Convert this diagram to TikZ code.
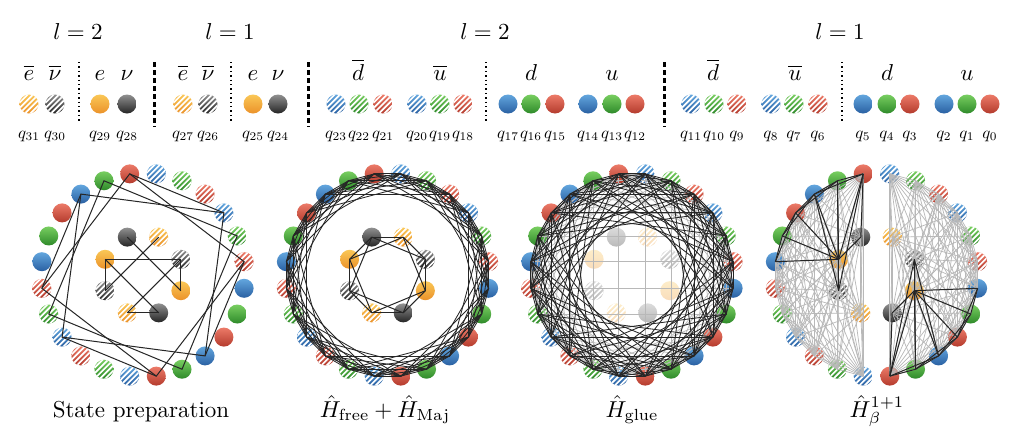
\documentclass[tikz,border=0pt]{standalone}
\usetikzlibrary{calc}
\definecolor{qblueT}{HTML}{62A6DE}\definecolor{qblueB}{HTML}{2A60A2}
\definecolor{qgreenT}{HTML}{78CE60}\definecolor{qgreenB}{HTML}{2E8A2A}
\definecolor{qredT}{HTML}{EC7A68}\definecolor{qredB}{HTML}{B43B2D}
\definecolor{qorangeT}{HTML}{FAC756}\definecolor{qorangeB}{HTML}{EB922A}
\definecolor{qgrayT}{HTML}{909090}\definecolor{qgrayB}{HTML}{252525}
% #1 coordinate, #2 colour prefix, #3 striped (0/1), #4 colour strength
\newcommand\qball[4]{%
  \shade[top color=#2T!#4,bottom color=#2B!#4] (#1) circle[radius=4.75pt];
  \ifnum#3=1\relax
    \begin{scope}
      \clip (#1) circle[radius=4.75pt];
      \foreach \s in {-2,...,2}{\draw[white,line width=0.85pt] (#1) ++({\s*2.7pt-6pt},-6pt) -- ++(12pt,12pt);}
    \end{scope}
  \fi}
\newcommand\drawouter[1]{%
  \foreach \k in {0,...,23}{%
    \pgfmathtruncatemacro\cc{mod(\k,3)}%
    \pgfmathtruncatemacro\st{mod(floor(\k/6)+1,2)}%
    \ifcase\cc \def\cn{qblue}\or \def\cn{qgreen}\else \def\cn{qred}\fi
    \qball{P#1o\k}{\cn}{\st}{100}}}
\newcommand\drawinner[2]{%
  \foreach \j in {0,...,7}{%
    \pgfmathtruncatemacro\g{mod(\j,2)}%
    \pgfmathtruncatemacro\m{mod(\j,4)}%
    \pgfmathtruncatemacro\st{(\m==1)||(\m==2)}%
    \ifcase\g \def\cn{qgray}\else \def\cn{qorange}\fi
    \qball{P#1i\j}{\cn}{\st}{#2}}}
\begin{document}
\begin{tikzpicture}[x=0.5pt,y=-0.5pt,
  pline/.style={black!85,line width=0.5pt},
  pdense/.style={black!85,line width=0.42pt},
  plight/.style={black!28,line width=0.35pt},
  lbl/.style={scale=1.15,anchor=base,inner sep=0pt},
  qlbl/.style={scale=0.84,anchor=base,inner sep=0pt},
  thickdash/.style={line width=1.5pt,dash pattern=on 2.6pt off 1.4pt},
  dotsep/.style={line width=0.7pt,dash pattern=on 0.7pt off 1.5pt}]
\useasboundingbox (0,0) rectangle (1024,445);
\fill[white] (0,0) rectangle (1024,445);

% ---------- header ----------
\node[lbl] (t1) at (78,39) {$l=2$};
\node[lbl] (t2) at (230,39) {$l=1$};
\node[lbl] (t3) at (485,39) {$l=2$};
\node[lbl] (t4) at (840,39) {$l=1$};

\foreach \x/\txt [count=\n] in {29/\overline{e},55/\overline{\nu},100/e,127/\nu,183/\overline{e},208/\overline{\nu},253/e,278/\nu,358/\overline{d},440/\overline{u},531/d,612/u,713/\overline{d},795/\overline{u},887/d,967/u}
  \node[lbl] (f\n) at (\x,80) {$\txt$};

\foreach \x in {154,308,664} \draw[thickdash] (\x,62) -- (\x,127);
\foreach \x in {79,231,486,842} \draw[dotsep] (\x,62) -- (\x,122);

\foreach \x/\cn/\st/\q in {29/qorange/1/31,55/qgray/1/30,100/qorange/0/29,127/qgray/0/28,
  183/qorange/1/27,208/qgray/1/26,253/qorange/0/25,278/qgray/0/24,
  336/qblue/1/23,359/qgreen/1/22,383/qred/1/21,417/qblue/1/20,440/qgreen/1/19,463/qred/1/18,
  508/qblue/0/17,531/qgreen/0/16,555/qred/0/15,588/qblue/0/14,612/qgreen/0/13,635/qred/0/12,
  691/qblue/1/11,714/qgreen/1/10,737/qred/1/9,771/qblue/1/8,794/qgreen/1/7,818/qred/1/6,
  863/qblue/0/5,887/qgreen/0/4,910/qred/0/3,944/qblue/0/2,967/qgreen/0/1,990/qred/0/0}{
  \coordinate (h\q) at (\x,104);
  \qball{h\q}{\cn}{\st}{100}
  \node[qlbl] (ql\q) at (\x,138) {$q_{\q}$};
}

% ---------- panel coordinates ----------
\foreach \p/\cx in {1/143,2/387.5,3/632,4/876.5}{
  \foreach \k in {0,...,23}{
    \coordinate (P\p o\k) at ({\cx+102*cos(82.5-15*\k)},{275-102*sin(82.5-15*\k)});
  }
  \foreach \j in {0,...,7}{
    \coordinate (P\p i\j) at ({\cx+41*cos(112.5-45*\j)},{275-41*sin(112.5-45*\j)});
  }
}

% ---------- panel 1 ----------
\drawouter{1}
\drawinner{1}{100}
\draw[pline] (P1o21) -- (P1o3) -- (P1o9) -- (P1o15) -- cycle;
\draw[pline] (P1o22) -- (P1o4) -- (P1o10) -- (P1o16) -- cycle;
\draw[pline] (P1o23) -- (P1o5) -- (P1o11) -- (P1o17) -- cycle;
\foreach \a/\b in {23/3,5/9,11/15,17/21} \draw[pline] (P1o\a) -- (P1o\b);
\foreach \a/\b in {7/2,7/6,2/3,5/4,7/4,2/5,0/3,1/6} \draw[pline] (P1i\a) -- (P1i\b);

% ---------- panel 2 ----------
\drawouter{2}
\drawinner{2}{100}
\foreach \k in {0,...,23}{\foreach \s in {1,...,5}{
  \pgfmathtruncatemacro\m{mod(\k+\s,24)}\draw[pdense] (P2o\k) -- (P2o\m);}}
\foreach \j in {0,...,7}{\foreach \s in {1,2}{
  \pgfmathtruncatemacro\m{mod(\j+\s,8)}\draw[pline] (P2i\j) -- (P2i\m);}}

% ---------- panel 3 ----------
\drawouter{3}
\drawinner{3}{32}
\foreach \k in {0,...,23}{\foreach \s in {3,6}{
  \pgfmathtruncatemacro\m{mod(\k+\s,24)}\draw[plight] (P3o\k) -- (P3o\m);}}
\foreach \k in {0,...,11}{
  \pgfmathtruncatemacro\m{23-\k}\draw[plight] (P3o\k) -- (P3o\m);
  \pgfmathtruncatemacro\v{11-\k}\draw[plight] (P3o\k) -- (P3o\v);
  \pgfmathtruncatemacro\w{\k+12}\pgfmathtruncatemacro\z{35-\w}\draw[plight] (P3o\w) -- (P3o\z);}
\foreach \k in {0,...,23}{\foreach \s in {1,2,4,5,7,8}{
  \pgfmathtruncatemacro\m{mod(\k+\s,24)}\draw[pdense] (P3o\k) -- (P3o\m);}}

% ---------- panel 4 ----------
\drawouter{4}
\drawinner{4}{100}
\foreach \a [count=\ia] in {o12,o13,o14,o15,o16,o17,o18,o19,o20,o21,o22,o23,i0,i5,i6,i7}{
  \foreach \b [count=\ib] in {o12,o13,o14,o15,o16,o17,o18,o19,o20,o21,o22,o23,i0,i5,i6,i7}{
    \ifnum\ia<\ib \draw[plight] (P4\a) -- (P4\b);\fi}}
\foreach \a [count=\ia] in {o0,o1,o2,o3,o4,o5,o6,o7,o8,o9,o10,o11,i1,i2,i3,i4}{
  \foreach \b [count=\ib] in {o0,o1,o2,o3,o4,o5,o6,o7,o8,o9,o10,o11,i1,i2,i3,i4}{
    \ifnum\ia<\ib \draw[plight] (P4\a) -- (P4\b);\fi}}
% left half strong terms
\foreach \t in {o18,o19,o20,o21,o22,o23,i0,i6} \draw[pline] (P4i7) -- (P4\t);
\foreach \t in {o21,o22,o23} \draw[pline] (P4i6) -- (P4\t);
\draw[pline] (P4i0) -- (P4o23);
\draw[pline] (P4o18) -- (P4o19) -- (P4o20) -- (P4o21) -- (P4o22) -- (P4o23);
\foreach \a/\b in {18/20,19/21,20/22,21/23} \draw[pline] (P4o\a) -- (P4o\b);
% right half strong terms
\foreach \t in {o6,o7,o8,o9,o10,o11,i4,i2} \draw[pline] (P4i3) -- (P4\t);
\foreach \t in {o9,o10,o11} \draw[pline] (P4i2) -- (P4\t);
\draw[pline] (P4i4) -- (P4o11);
\draw[pline] (P4o6) -- (P4o7) -- (P4o8) -- (P4o9) -- (P4o10) -- (P4o11);
\foreach \a/\b in {6/8,7/9,8/10,9/11} \draw[pline] (P4o\a) -- (P4o\b);

% ---------- captions ----------
\node[lbl] (c1) at (141,417) {State preparation};
\node[lbl] (c2) at (385,417) {$\hat{H}_{\mathrm{free}}+\hat{H}_{\mathrm{Maj}}$};
\node[lbl] (c3) at (632,417) {$\hat{H}_{\mathrm{glue}}$};
\node[lbl] (c4) at (877,417) {$\hat{H}_{\beta}^{1+1}$};
\end{tikzpicture}
\end{document}
